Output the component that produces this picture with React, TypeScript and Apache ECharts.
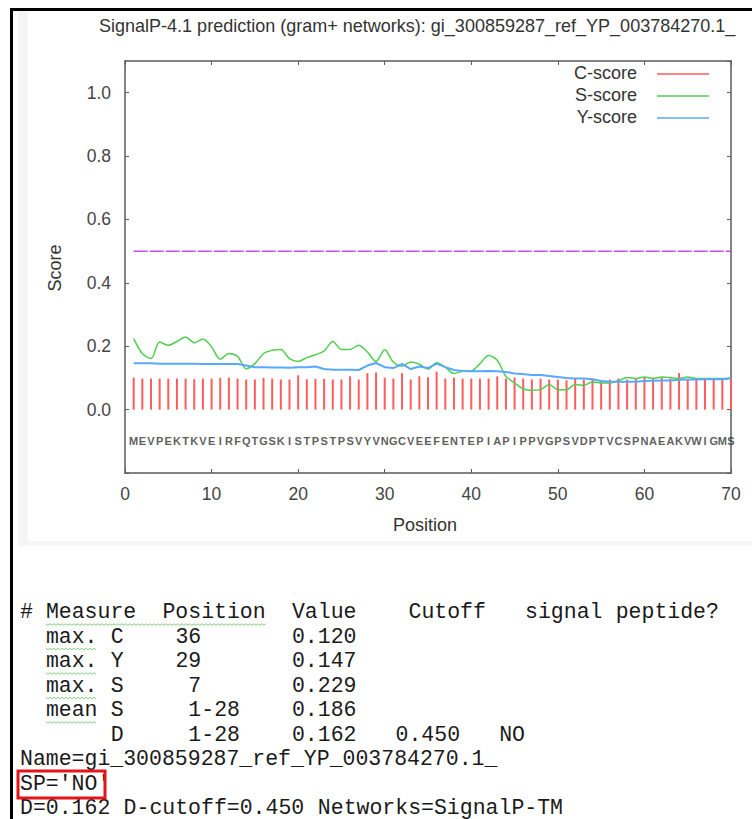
import React, { useEffect, useRef } from "react";
import * as echarts from "echarts";

const TITLE = "SignalP-4.1 prediction (gram+ networks): gi_300859287_ref_YP_003784270.1_";
const SEQUENCE = "MEVPEKTKVEIRFQTGSKISTPSTPSVYVNGCVEEFENTEPIAPIPPVGPSVDPTVCSPNAEAKVWIGMS".split("");

const C_SCORE = [
  0.101, 0.098, 0.098, 0.098, 0.098, 0.098, 0.098, 0.096, 0.098, 0.098,
  0.100, 0.101, 0.098, 0.095, 0.095, 0.100, 0.098, 0.095, 0.095, 0.108,
  0.096, 0.097, 0.097, 0.095, 0.095, 0.105, 0.095, 0.115, 0.117, 0.101,
  0.098, 0.115, 0.095, 0.105, 0.102, 0.120, 0.098, 0.101, 0.098, 0.098,
  0.098, 0.098, 0.105, 0.098, 0.101, 0.098, 0.095, 0.098, 0.095, 0.095,
  0.093, 0.098, 0.095, 0.098, 0.093, 0.095, 0.098, 0.095, 0.098, 0.101,
  0.101, 0.101, 0.098, 0.115, 0.095, 0.098, 0.098, 0.095, 0.095, 0.100,
];

const S_SCORE = [
  0.224, 0.177, 0.161, 0.213, 0.203, 0.215, 0.229, 0.211, 0.223, 0.198,
  0.159, 0.177, 0.168, 0.129, 0.145, 0.177, 0.187, 0.190, 0.161, 0.152,
  0.164, 0.173, 0.185, 0.215, 0.190, 0.190, 0.203, 0.182, 0.152, 0.189,
  0.150, 0.137, 0.150, 0.143, 0.128, 0.148, 0.134, 0.114, 0.121, 0.122,
  0.145, 0.171, 0.156, 0.105, 0.084, 0.066, 0.061, 0.063, 0.079, 0.063,
  0.063, 0.079, 0.077, 0.087, 0.084, 0.084, 0.092, 0.101, 0.098, 0.103,
  0.098, 0.103, 0.101, 0.098, 0.103, 0.098, 0.098, 0.098, 0.098, 0.100,
];

const Y_SCORE = [
  0.146, 0.146, 0.146, 0.145, 0.145, 0.145, 0.145, 0.145, 0.144, 0.144,
  0.144, 0.144, 0.144, 0.139, 0.134, 0.134, 0.133, 0.133, 0.132, 0.134,
  0.134, 0.136, 0.128, 0.126, 0.126, 0.126, 0.125, 0.139, 0.147, 0.134,
  0.131, 0.144, 0.128, 0.136, 0.131, 0.145, 0.134, 0.125, 0.122, 0.121,
  0.121, 0.122, 0.121, 0.119, 0.114, 0.112, 0.109, 0.109, 0.106, 0.103,
  0.100, 0.098, 0.098, 0.096, 0.090, 0.088, 0.088, 0.088, 0.088, 0.090,
  0.091, 0.092, 0.092, 0.094, 0.095, 0.095, 0.096, 0.096, 0.096, 0.098,
];

const CUTOFF_LINE = [
  [1, 0.5],
  [70, 0.5],
];
const SEQ_ROW_Y = -0.1;

const LEGEND_NAMES = ["C-score", "S-score", "Y-score"];
const COLORS = ["#ff5c5c", "#4fcf4f", "#58a8ff"];
const CUTOFF_COLOR = "#c84cf2";

const REPORT_LINES = [
  "# Measure  Position  Value    Cutoff   signal peptide?",
  "  max. C    36       0.120",
  "  max. Y    29       0.147",
  "  max. S     7       0.229",
  "  mean S     1-28    0.186",
  "       D     1-28    0.162   0.450   NO",
  "Name=gi_300859287_ref_YP_003784270.1_",
  "SP='NO'",
  "D=0.162 D-cutoff=0.450 Networks=SignalP-TM",
];

const SANS = "Liberation Sans, Arial, sans-serif";
const NARROW = "Liberation Sans Narrow, Liberation Sans, Arial, sans-serif";
const MONO = "Liberation Mono, Courier New, monospace";

function buildGraphics() {
  const g: any[] = [];
  // background panel
  g.push({ type: "rect", z: -10, shape: { x: 18, y: 11, width: 740, height: 535 }, style: { fill: "#f5f5f5" } });
  g.push({ type: "rect", z: -9, shape: { x: 28, y: 11, width: 730, height: 530 }, style: { fill: "#ffffff" } });
  // black border
  g.push({ type: "rect", z: 10, shape: { x: 10, y: 8, width: 742, height: 3 }, style: { fill: "#000" } });
  g.push({ type: "rect", z: 10, shape: { x: 10, y: 8, width: 3, height: 811 }, style: { fill: "#000" } });

  // title
  g.push({
    type: "text", x: 99, y: 26, scaleX: 1.03,
    style: { text: TITLE, fontSize: 17.5, fontFamily: SANS, fill: "#333", verticalAlign: "middle", align: "left" },
  });
  // axis names
  g.push({
    type: "text", x: 55, y: 268, rotation: Math.PI / 2,
    style: { text: "Score", fontSize: 18, fontFamily: SANS, fill: "#333", align: "center", verticalAlign: "middle" },
  });
  g.push({
    type: "text", x: 425, y: 525,
    style: { text: "Position", fontSize: 18, fontFamily: SANS, fill: "#333", align: "center", verticalAlign: "middle" },
  });
  // legend
  const ly = [73, 95, 117];
  LEGEND_NAMES.forEach((n, i) => {
    g.push({
      type: "text", x: 637, y: ly[i],
      style: { text: n, fontSize: 18, fontFamily: SANS, fill: "#333", align: "right", verticalAlign: "middle" },
    });
    g.push({
      type: "line", shape: { x1: 657, y1: ly[i] + 1, x2: 709, y2: ly[i] + 1 },
      style: { stroke: COLORS[i], lineWidth: 1.5 },
    });
  });

  // report text
  const CW = 12.95;
  const X0 = 20;
  const Y0 = 612;
  const LH = 24.5;
  REPORT_LINES.forEach((line, r) => {
    const re = /\S+/g;
    let m: RegExpExecArray | null;
    while ((m = re.exec(line)) !== null) {
      g.push({
        type: "text", x: X0 + m.index * CW, y: Y0 + r * LH,
        style: { text: m[0], fontSize: 21.5, fontFamily: MONO, fill: "#1a1a1a", align: "left", verticalAlign: "middle" },
      });
    }
  });
  // spell-check squiggles
  const squig = (r: number, c0: number, c1: number) => {
    const y = Y0 + r * LH + 12;
    const pts: number[][] = [];
    for (let x = X0 + c0 * CW, k = 0; x <= X0 + c1 * CW; x += 2, k++) pts.push([x, y + (k % 2 ? 1.2 : -0.2)]);
    g.push({ type: "polyline", shape: { points: pts }, style: { stroke: "#7fcf7f", lineWidth: 1, fill: null } });
  };
  squig(0, 2, 19);
  squig(1, 2, 6);
  squig(2, 2, 6);
  squig(3, 2, 6);
  squig(4, 2, 6);
  // red box around SP='NO'
  g.push({
    type: "rect", shape: { x: 18, y: 771, width: 87, height: 27 },
    style: { fill: null, stroke: "#e3141b", lineWidth: 3 },
  });
  return g;
}

export default function App() {
  const ref = useRef<HTMLDivElement>(null);
  useEffect(() => {
    if (!ref.current) return;
    const chart = echarts.init(ref.current, null, { renderer: "svg" });
    const axisLine = { show: true, onZero: false, lineStyle: { color: "#5a5a5a", width: 1.5 } };
    const axisTick = { show: true, inside: true, length: 4, lineStyle: { color: "#5a5a5a", width: 1 } };
    chart.setOption({
      animation: false,
      backgroundColor: "#fff",
      grid: { left: 125, right: 21, top: 61, bottom: 346 },
      xAxis: [
        {
          type: "value", min: 0, max: 70, interval: 10,
          axisLine, axisTick, splitLine: { show: false },
          axisLabel: { fontSize: 17.5, color: "#444", fontFamily: SANS, margin: 12 },
        },
        {
          type: "value", position: "top", min: 0, max: 70, interval: 10,
          axisLine, axisTick, splitLine: { show: false }, axisLabel: { show: false },
        },
      ],
      yAxis: [
        {
          type: "value", min: -0.2, max: 1.1, interval: 0.2,
          axisLine, axisTick, splitLine: { show: false },
          axisLabel: {
            fontSize: 17.5, color: "#444", fontFamily: SANS, margin: 14,
            formatter: (v: number) => (v < -0.01 ? "" : v.toFixed(1)),
            showMaxLabel: false,
          },
        },
        {
          type: "value", position: "right", min: -0.2, max: 1.1, interval: 0.2,
          axisLine, axisTick, splitLine: { show: false }, axisLabel: { show: false },
        },
      ],
      series: [
        {
          name: "C-score", type: "bar", barWidth: 2,
          data: C_SCORE.map((v, i) => [i + 1, v]),
          itemStyle: { color: COLORS[0] },
        },
        {
          name: "S-score", type: "line", smooth: 0.3, symbol: "none",
          data: S_SCORE.map((v, i) => [i + 1, v]),
          lineStyle: { color: COLORS[1], width: 1.5 },
        },
        {
          name: "Y-score", type: "line", symbol: "none",
          data: Y_SCORE.map((v, i) => [i + 1, v]),
          lineStyle: { color: COLORS[2], width: 2 },
        },
        {
          name: "cutoff", type: "line", symbol: "none",
          data: CUTOFF_LINE,
          lineStyle: { color: CUTOFF_COLOR, width: 1.5, type: [14, 2] },
        },
        {
          name: "sequence", type: "scatter", symbolSize: 0,
          data: SEQUENCE.map((_, i) => [i + 1, SEQ_ROW_Y]),
          label: {
            show: true, position: "inside",
            formatter: (p: any) => SEQUENCE[p.dataIndex],
            fontSize: 11, fontWeight: "bold", fontFamily: NARROW, color: "#333",
          },
        },
      ],
      graphic: buildGraphics(),
    });
    return () => chart.dispose();
  }, []);
  return (
    <div
      ref={ref}
      style={{ position: "absolute", left: 0, top: 0, width: 752, height: 819 }}
    />
  );
}
